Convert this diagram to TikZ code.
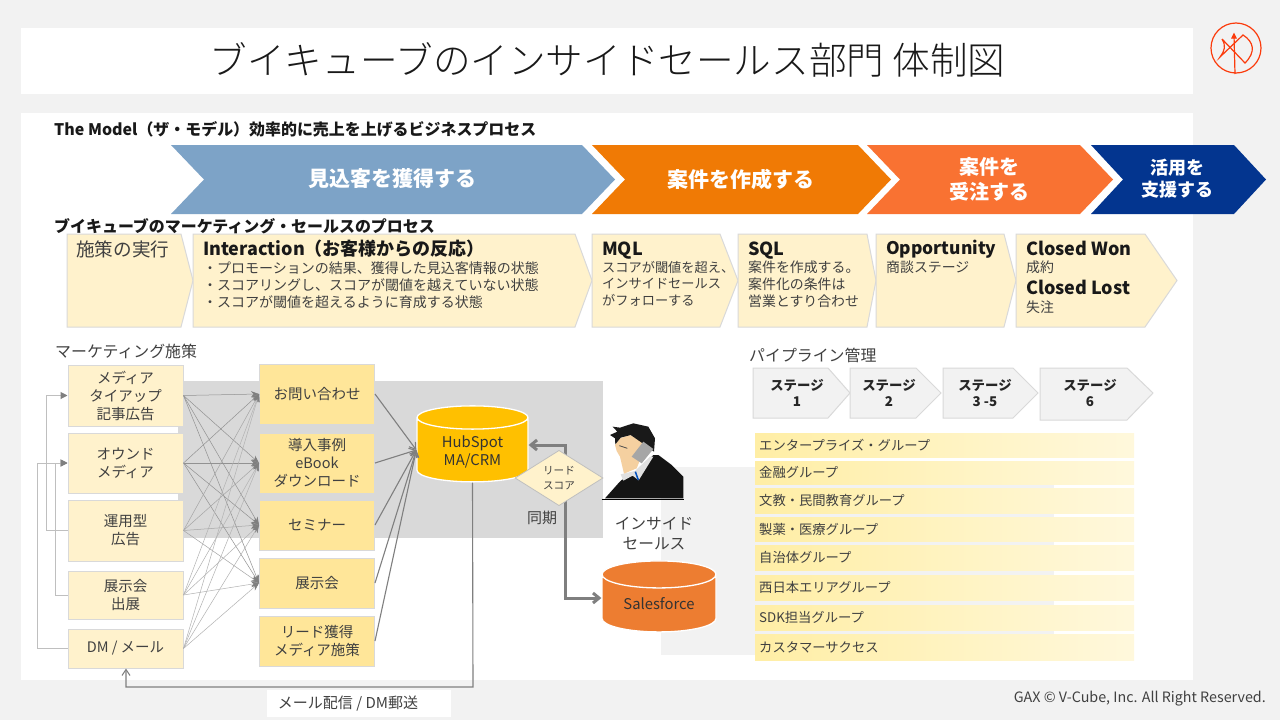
\documentclass[tikz,border=0pt]{standalone}
\usepackage{fontspec}
\usepackage{tikz}
\usetikzlibrary{arrows.meta,positioning,calc,shapes.geometric}
\setmainfont{Noto Sans CJK JP}
\newfontfamily\titlefont{Noto Sans CJK JP Light}

\definecolor{paper}{HTML}{F2F2F2}
\definecolor{panel}{HTML}{D9D9D9}
\definecolor{cream}{HTML}{FFF2CC}
\definecolor{honey}{HTML}{FFE699}
\definecolor{inkgray}{HTML}{404040}
\definecolor{wiregray}{HTML}{7F7F7F}
\definecolor{sealred}{HTML}{FB3B0C}
\definecolor{hubgold}{HTML}{FFC000}
\definecolor{salesorange}{HTML}{ED7D31}
\definecolor{skin}{HTML}{F5D0A0}
\definecolor{tieblue}{HTML}{0050BE}
\definecolor{barleft}{HTML}{FFEEA5}
\definecolor{barright}{HTML}{FFF8DC}

\tikzset{
	chapter/.style={anchor=west,inner sep=0pt,font=\fontsize{15.95}{18}\selectfont\bfseries,text=black!90},
	sublabel/.style={anchor=west,inner sep=0pt,font=\fontsize{15.9}{18}\selectfont,text=inkgray},
	banner/.style={inner sep=0pt,align=center,text=white,font=\bfseries},
	stepshape/.style={draw=panel,fill=cream,line width=1pt},
	stepname/.style={anchor=west,inner sep=0pt,font=\fontsize{18}{22}\selectfont\bfseries,text=black!90},
	stepnote/.style={anchor=north west,inner sep=0pt,align=left,font=\fontsize{13.9}{16.6}\selectfont,text=inkgray},
	markbox/.style={draw=panel,fill=cream,line width=1pt,inner sep=0pt,align=center,minimum width=115pt,font=\fontsize{14.5}{18}\selectfont,text=inkgray},
	channelbox/.style={markbox,fill=honey},
	stageshape/.style={draw=panel,fill=paper,line width=1pt},
	stagetext/.style={inner sep=0pt,align=center,font=\fontsize{13.4}{16}\selectfont\bfseries,text=black!85},
	bartext/.style={anchor=west,inner sep=0pt,font=\fontsize{13.3}{16}\selectfont,text=inkgray},
	store/.style={cylinder,shape border rotate=90,aspect=.38,draw=white,line width=1.3pt,inner sep=0pt,align=center,font=\fontsize{14.8}{18}\selectfont,text=black!80},
	fanline/.style={line width=.5pt,-{Stealth[length=8pt,width=6pt,color=wiregray,fill=wiregray]}},
	feedline/.style={draw=black!25,line width=1pt,-{Triangle[length=7pt,width=7pt,color=wiregray,fill=wiregray]}},
	hubline/.style={draw=wiregray,line width=1.1pt,-{Straight Barb[length=6pt,width=8pt]}},
	syncline/.style={draw=wiregray,line width=3pt,{Straight Barb[length=6pt,width=10pt]}-{Straight Barb[length=6pt,width=10pt]}},
	sealline/.style={draw=sealred,line width=1.2pt}
}

\begin{document}
\begin{tikzpicture}[x=1pt,y=-1pt]
	\fill[paper] (0,0) rectangle (1280,720);
	\useasboundingbox (0,0) rectangle (1280,720);
	\fill[white] (21,28) rectangle (1193,94);
	\fill[white] (21,113) rectangle (1193,680);
	\fill[paper] (661,467) rectangle (1054,655);            % behind the groups
	\fill[panel] (178,381) rectangle (603,538);             % behind the channels

	\node[inner sep=0pt,font=\fontsize{37.6}{40}\selectfont\titlefont,text=black!90] (title) at (607.5,60) {ブイキューブのインサイドセールス部門 体制図};

	% seal
	\draw[sealline] (1236,48) circle [radius=25];
	\draw[sealline] (1235,74) -- (1234,35);
	\draw[sealline,fill=sealred] (1234,34) -- (1232,38) -- (1236,38) -- cycle;
	\draw[sealline] (1222,39) -- (1245,63) .. controls (1256,52) and (1254,42) .. (1243,35) -- (1220,57) .. controls (1225,50) and (1226,46) .. (1222,39);

	\node[chapter] (modelhead) at (54,129.5) {The Model（ザ・モデル）効率的に売上を上げるビジネスプロセス};
	\node[chapter] (vcubehead) at (54,226) {ブイキューブのマーケティング・セールスのプロセス};

	% top chevrons
	\foreach \a/\b/\c/\d/\col in {171/582/615/204/7DA3C7,592/858/891/625/F07A05,867/1080/1113/900/F97232,1091/1234/1266/1123/03358F}
	{
		\definecolor{tmpfill}{HTML}{\col}
		\fill[tmpfill] (\a,145) -- (\b,145) -- (\c,179.5) -- (\b,214) -- (\a,214) -- (\d,179.5) -- cycle;
	}
	\node[banner,font=\fontsize{21}{25}\selectfont\bfseries] (acquire) at (392,179) {見込客を獲得する};
	\node[banner,font=\fontsize{21}{25}\selectfont\bfseries] (create) at (741,179) {案件を作成する};
	\node[banner,font=\fontsize{20}{25}\selectfont\bfseries] (win) at (989,179) {案件を\\受注する};
	\node[banner,font=\fontsize{18}{22}\selectfont\bfseries] (support) at (1177,179) {活用を\\支援する};

	% process pentagons
	\foreach \a/\b/\c in {67/181/193,193/575/592,592/720/738,738/867/876,876/1004/1016,1016/1145/1177}
		\draw[stepshape] (\a,234) -- (\b,234) -- (\c,280.5) -- (\b,327) -- (\a,327) -- cycle;
	\node[stepname,font=\fontsize{18.6}{22}\selectfont,text=inkgray] (execute) at (76,249) {施策の実行};
	\node[stepname] (interaction) at (203,249) {Interaction（お客様からの反応）};
	\node[stepnote,font=\fontsize{14}{17}\selectfont] (interactionnote) at (203,261) {・プロモーションの結果、獲得した見込客情報の状態\\・スコアリングし、スコアが閾値を越えていない状態\\・スコアが閾値を超えるように育成する状態};
	\node[stepname] (mql) at (602,250.5) {MQL};
	\node[stepnote,font=\fontsize{13.2}{16.6}\selectfont] (mqlnote) at (602,261) {スコアが閾値を超え、\\インサイドセールス\\がフォローする};
	\node[stepname] (sql) at (748,250.5) {SQL};
	\node[stepnote] (sqlnote) at (748,261) {案件を作成する。\\案件化の条件は\\営業とすり合わせ};
	\node[stepname,font=\fontsize{17.4}{22}\selectfont\bfseries] (opportunity) at (886,249) {Opportunity};
	\node[stepnote] (opportunitynote) at (886,261) {商談ステージ};
	\node[stepname] (won) at (1026,248.5) {Closed Won};
	\node[stepnote] (wonnote) at (1026,261) {成約};
	\node[stepname] (lost) at (1026,287) {Closed Lost};
	\node[stepnote] (lostnote) at (1026,301) {失注};

	\node[sublabel] (marketinghead) at (55,351) {マーケティング施策};
	\node[sublabel] (pipelinehead) at (749,355) {パイプライン管理};

	% marketing and channel boxes
	\foreach \n/\y/\h/\s in {1/395.5/61/{メディア\\タイアップ\\記事広告},2/463/60/{オウンド\\メディア},3/530.5/61/{運用型\\広告},4/595/48/{展示会\\出展},5/648.5/39/{DM / メール}}
		\node[markbox,minimum height=\h pt] (m\n) at (125.5,\y) {\s};
	\foreach \n/\y/\h/\s in {1/394/60/{お問い合わせ},2/463/60/{導入事例\\eBook\\ダウンロード},3/525/50/{セミナー},4/583/50/{展示会},5/641/50/{リード獲得\\メディア施策}}
		\node[channelbox,minimum height=\h pt] (c\n) at (317,\y) {\s};

	\node[store,fill=hubgold,minimum width=111pt,minimum height=76pt] (hubspot) at (472.5,450) {\rule{0pt}{16pt}HubSpot\\MA/CRM};
	\node[store,fill=salesorange,minimum width=114pt,minimum height=71pt] (salesforce) at (659,603.5) {Salesforce};

	\foreach \a/\o in {1/85,2/85,3/70,4/60,5/60}            % every campaign to every channel
		\foreach \b in {1,...,4}
			\draw[fanline,draw=wiregray!\o] (m\a.east) -- (c\b.west);
	\foreach \b in {1,...,5}
		\draw[hubline] (c\b.east) -- (hubspot.west);

	\coordinate (railA) at (46,395.5);
	\coordinate (railB) at (55,463);
	\coordinate (railC) at (37,463);
	\draw[feedline] (m3.west) -| (railA) -- (m1.west);
	\draw[feedline] (m4.west) -| (railB) -- (m2.west);
	\draw[feedline] (m5.west) -| (railC) -- (m2.west);

	\coordinate (syncup) at (565,445);
	\coordinate (syncdown) at (565,598);
	\draw[syncline] (syncup -| hubspot.east) -- (syncup) -- (syncdown) -- (syncdown -| salesforce.west);
	\node[diamond,draw=black!25,fill=cream,line width=.8pt,inner sep=0pt,minimum width=88pt,minimum height=40pt,align=center,font=\fontsize{10.6}{15}\selectfont,text=inkgray] (leadscore) at (559,478) {リード\\スコア};
	\node[sublabel,anchor=center,font=\fontsize{15}{18}\selectfont] (sync) at (542,518) {同期};

	% caller
	\begin{scope}[shift={(600,415)},x=.3333pt,y=-.3333pt]
		\fill[black!92] (15,250) -- (55,205) -- (65,195) -- (105,175) -- (160,120) -- (175,120) -- (215,150) -- (250,185) -- (250,250) -- cycle;
		\fill[black!12] (62,178) -- (105,168) -- (150,125) -- (160,125) -- (116,196) -- (98,182) -- (70,197) -- cycle;
		\fill[skin] (45,90) -- (60,70) -- (90,60) -- (128,80) -- (118,140) -- (110,160) -- (72,176) -- (60,125) -- (50,108) -- cycle;
		\fill[black!90] (30,60) -- (52,50) -- (38,35) -- (60,38) -- (100,25) -- (145,35) -- (165,70) -- (162,110) -- (128,85) -- (92,60) -- (62,68) -- (46,88) -- (45,70) -- cycle;
		\fill[black!35] (95,125) -- (130,80) -- (160,102) -- (125,145) -- cycle;
		\draw[black!70,line width=.8pt] (58,92) -- (82,100);
		\draw[tieblue,line width=1.5pt] (106,170) -- (115,195);
		\draw[black,line width=.8pt] (5,252) -- (252,252);
	\end{scope}
	\node[sublabel,anchor=center,align=center,font=\fontsize{15.7}{20}\selectfont] (inside) at (654,534) {インサイド\\セールス};

	\coordinate (mailcorner) at (473,687);
	\coordinate (mailup) at (126,687);
	\draw[hubline] (hubspot.south) -- (mailcorner) -- (mailup) -- (m5.south -| mailup);
	\fill[white] (267,690) rectangle (451,717);
	\node[sublabel,anchor=center,font=\fontsize{15}{18}\selectfont] (mailing) at (348,704) {メール配信 / DM郵送};

	% pipeline
	\foreach \a/\b/\c/\w/\y/\s in {753/828/850/797/418/{ステージ\\1},850/916/941/889/418/{ステージ\\2},943/1013/1038/985/418/{ステージ\\3 -5},1040/1127/1153/1090/420/{ステージ\\6}}
	{
		\draw[stageshape] (\a,368) -- (\b,368) -- (\c,393) -- (\b,\y) -- (\a,\y) -- cycle;
		\node[stagetext] (stage\a) at (\w,393) {\s};
	}

	% groups
	\foreach \n/\p/\q/\s in {1/433/457/エンタープライズ・グループ,2/461/484/金融グループ,3/488/513/文教・民間教育グループ,4/517/541/製薬・医療グループ,5/545/570/自治体グループ,6/575/600/西日本エリアグループ,7/605/630/SDK担当グループ,8/634/660/カスタマーサクセス}
	{
		\shade[left color=barleft,right color=barright] (755,\p) rectangle (1134,\q);
		\node[bartext] (g\n) at (759,{(\p+\q)/2}) {\s};
	}

	\node[anchor=east,inner sep=0pt,font=\fontsize{14.3}{16}\selectfont,text=inkgray] (rights) at (1266,699) {GAX © V-Cube, Inc. All Right Reserved.};
\end{tikzpicture}
\end{document}
